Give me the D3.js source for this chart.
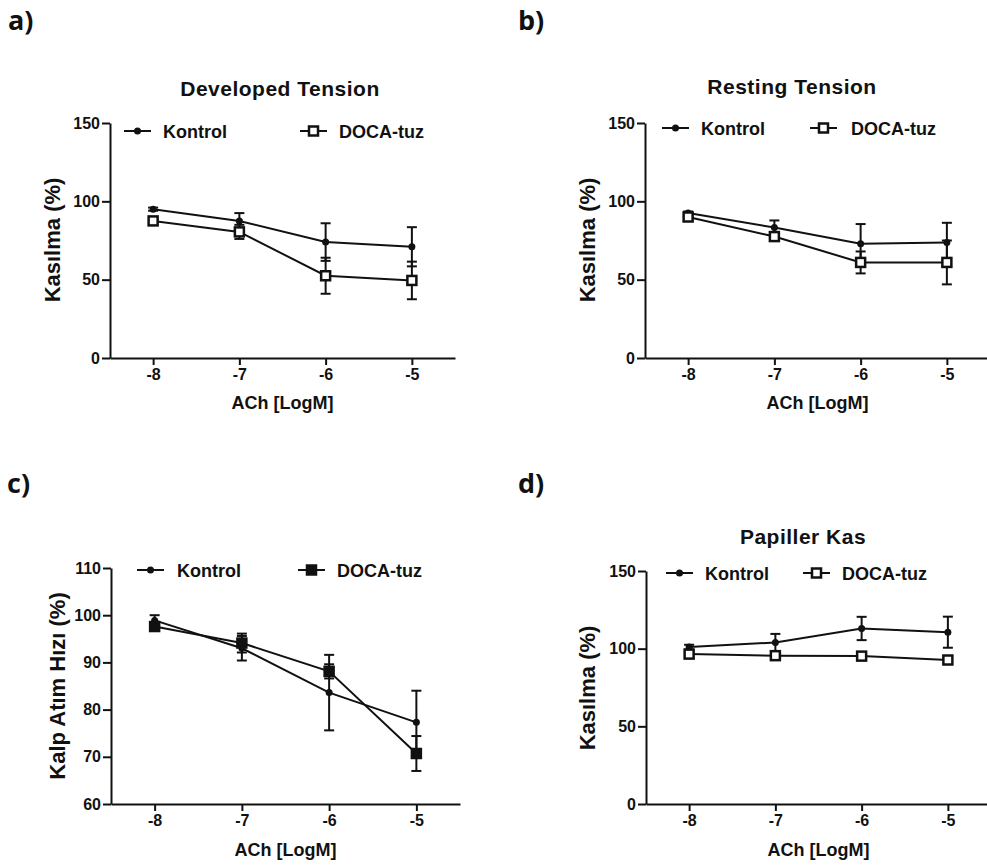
<!DOCTYPE html>
<html>
<head>
<meta charset="utf-8">
<script src="https://cdn.jsdelivr.net/npm/d3@7"></script>
<style>
  body { margin: 0; background: #fff; }
  svg text { font-family: "Liberation Sans", Arial, sans-serif; font-weight: bold; }
  .tick line, .domain { stroke: #111; stroke-width: 2px; }
  text.tag { font-family: "Open Sans", sans-serif; font-size: 27px; font-weight: 700; }
</style>
</head>
<body>
<svg id="chart" width="987" height="867"></svg>
<script>
// doses of ACh, log molar
const doses = [-8, -7, -6, -5];
const seriesNames = ["Kontrol", "DOCA-tuz"];

// a) Developed Tension
const devKontrol = [95, 87.5, 74, 71];
const devKontrolSem = [1, 5, 12, 12.5];
const devDoca = [87.5, 80.5, 52.5, 49.5];
const devDocaSem = [1.5, 4.5, 11.5, 12];

// b) Resting Tension
const restKontrol = [92.5, 83.3, 73, 73.8];
const restKontrolSem = [1, 4.5, 12.5, 12.5];
const restDoca = [90, 77.5, 61, 61];
const restDocaSem = [1.5, 2.5, 7, 14];

// c) heart rate
const hrKontrol = [98.9, 93, 83.6, 77.3];
const hrKontrolSem = [1.1, 2.6, 8, 6.7];
const hrDoca = [97.6, 94.1, 88.1, 70.7];
const hrDocaSem = [0.8, 2, 1.5, 3.7];

// d) Papiller Kas
const papKontrol = [101, 104, 113, 110.6];
const papKontrolSem = [1.5, 5.5, 7.5, 10];
const papDoca = [96.5, 95.5, 95.2, 92.7];
const papDocaSem = [1.5, 1.5, 1.5, 1.5];

const yTicks150 = [0, 50, 100, 150];
const yTicksHr = [60, 70, 80, 90, 100, 110];

const panels = [
  { tag: "a)", tagX: 8, tagY: 30, title: "Developed Tension", titleX: 280, titleY: 96,
    ylabel: "Kasılma (%)", ylabX: 60, ylabY: 240,
    x0: 110, x1: 455, yTop: 123, yBot: 358, yDomain: [0, 150], yTicks: yTicks150,
    xlabY: 409, legY: 131, leg: [124, 163, 300, 339], docaFill: "#fff",
    k: devKontrol, ks: devKontrolSem, d: devDoca, ds: devDocaSem },
  { tag: "b)", tagX: 518, tagY: 30, title: "Resting Tension", titleX: 792, titleY: 94,
    ylabel: "Kasılma (%)", ylabX: 595, ylabY: 240,
    x0: 645, x1: 990, yTop: 123, yBot: 358, yDomain: [0, 150], yTicks: yTicks150,
    xlabY: 409, legY: 128, leg: [662, 701, 810, 851], docaFill: "#fff",
    k: restKontrol, ks: restKontrolSem, d: restDoca, ds: restDocaSem },
  { tag: "c)", tagX: 7, tagY: 493, title: "", titleX: 0, titleY: 0,
    ylabel: "Kalp Atım Hızı (%)", ylabX: 65, ylabY: 686,
    x0: 111, x1: 460, yTop: 568, yBot: 804, yDomain: [60, 110], yTicks: yTicksHr,
    xlabY: 856, legY: 570, leg: [137, 177, 298, 337], docaFill: "#111",
    k: hrKontrol, ks: hrKontrolSem, d: hrDoca, ds: hrDocaSem },
  { tag: "d)", tagX: 518, tagY: 493, title: "Papiller Kas", titleX: 803, titleY: 544,
    ylabel: "Kasılma (%)", ylabX: 595, ylabY: 688,
    x0: 646, x1: 991, yTop: 571, yBot: 804, yDomain: [0, 150], yTicks: yTicks150,
    xlabY: 856, legY: 573, leg: [666, 705, 803, 842], docaFill: "#fff",
    k: papKontrol, ks: papKontrolSem, d: papDoca, ds: papDocaSem }
];

const svg = d3.select("#chart");

panels.forEach(p => {
  const g = svg.append("g");
  const x = d3.scaleLinear().domain([-8.5, -4.5]).range([p.x0, p.x1]);
  const y = d3.scaleLinear().domain(p.yDomain).range([p.yBot, p.yTop]);

  g.append("text").attr("class", "tag").attr("x", p.tagX).attr("y", p.tagY)
    .attr("fill", "#111").text(p.tag);

  if (p.title) {
    g.append("text").attr("x", p.titleX).attr("y", p.titleY)
      .attr("text-anchor", "middle").style("font-size", "21px")
      .style("letter-spacing", "0.5px").attr("fill", "#111").text(p.title);
  }

  const yAx = g.append("g").attr("transform", `translate(${p.x0},0)`)
    .call(d3.axisLeft(y).tickValues(p.yTicks).tickSize(8).tickSizeOuter(0).tickPadding(2));

  const xAx = g.append("g").attr("transform", `translate(0,${p.yBot})`)
    .call(d3.axisBottom(x).tickValues(doses).tickSize(7).tickSizeOuter(0).tickPadding(4)
      .tickFormat(d => String(d)));

  [yAx, xAx].forEach(a => {
    a.attr("font-size", null).attr("font-family", null);
    a.selectAll(".tick text").style("font-size", "16px").attr("fill", "#111");
  });

  g.append("text")
    .attr("transform", `translate(${p.ylabX},${p.ylabY}) rotate(-90)`)
    .attr("text-anchor", "middle").style("font-size", "22px").attr("fill", "#111")
    .text(p.ylabel);

  g.append("text").attr("x", (x(-8) + x(-5)) / 2).attr("y", p.xlabY)
    .attr("text-anchor", "middle").style("font-size", "18px").attr("fill", "#111")
    .text("ACh [LogM]");

  const line = d3.line().x((d, i) => x(doses[i])).y(d => y(d));

  const drawSeries = (vals, sems, kind) => {
    const s = g.append("g");
    s.append("path").datum(vals).attr("d", line)
      .attr("fill", "none").attr("stroke", "#111").attr("stroke-width", 2);
    const eb = s.selectAll(".eb").data(vals).enter().append("g");
    eb.append("line")
      .attr("x1", (d, i) => x(doses[i])).attr("x2", (d, i) => x(doses[i]))
      .attr("y1", (d, i) => y(d + sems[i])).attr("y2", (d, i) => y(d - sems[i]))
      .attr("stroke", "#111").attr("stroke-width", 2);
    [1, -1].forEach(sg => {
      eb.append("line")
        .attr("x1", (d, i) => x(doses[i]) - 5).attr("x2", (d, i) => x(doses[i]) + 5)
        .attr("y1", (d, i) => y(d + sg * sems[i])).attr("y2", (d, i) => y(d + sg * sems[i]))
        .attr("stroke", "#111").attr("stroke-width", 2);
    });
    if (kind === "k") {
      eb.append("circle").attr("cx", (d, i) => x(doses[i])).attr("cy", d => y(d))
        .attr("r", 3.5).attr("fill", "#111");
    } else {
      eb.append("rect").attr("x", (d, i) => x(doses[i]) - 4.5).attr("y", d => y(d) - 4.5)
        .attr("width", 9).attr("height", 9)
        .attr("fill", p.docaFill).attr("stroke", "#111").attr("stroke-width", 2.5);
    }
  };
  drawSeries(p.k, p.ks, "k");
  drawSeries(p.d, p.ds, "d");

  // legend
  const lg = g.append("g");
  const [kx, ktx, dx, dtx] = p.leg;
  lg.append("line").attr("x1", kx).attr("x2", kx + 27).attr("y1", p.legY).attr("y2", p.legY)
    .attr("stroke", "#111").attr("stroke-width", 2);
  lg.append("circle").attr("cx", kx + 13.5).attr("cy", p.legY).attr("r", 3.5).attr("fill", "#111");
  lg.append("text").attr("x", ktx).attr("y", p.legY + 6.5).style("font-size", "18px")
    .attr("fill", "#111").text(seriesNames[0]);
  lg.append("line").attr("x1", dx).attr("x2", dx + 27).attr("y1", p.legY).attr("y2", p.legY)
    .attr("stroke", "#111").attr("stroke-width", 2);
  lg.append("rect").attr("x", dx + 9).attr("y", p.legY - 4.5).attr("width", 9).attr("height", 9)
    .attr("fill", p.docaFill).attr("stroke", "#111").attr("stroke-width", 2.5);
  lg.append("text").attr("x", dtx).attr("y", p.legY + 6.5).style("font-size", "18px")
    .attr("fill", "#111").text(seriesNames[1]);
});
</script>
</body>
</html>
